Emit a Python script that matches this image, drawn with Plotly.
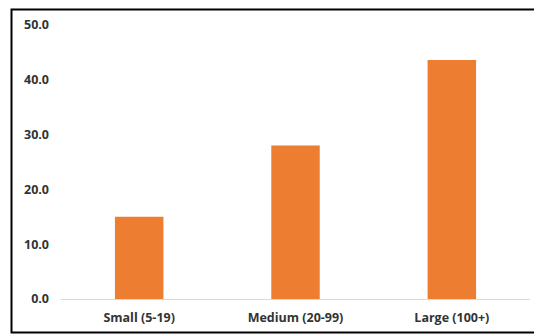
import plotly.graph_objects as go

categories = ["Small (5-19)", "Medium (20-99)", "Large (100+)"]
values = [15.0, 28.0, 43.6]
y_ticks = [0, 10, 20, 30, 40, 50]
y_tick_labels = ["0.0", "10.0", "20.0", "30.0", "40.0", "50.0"]

fig = go.Figure(go.Bar(x=categories, y=values, marker=dict(color="#ED7D31", line=dict(width=0)),
                       width=0.31))

L, R, T, B = 61, 4, 25, 35
W, H = 534, 334
pw, ph = W - L - R, H - T - B

def px_x(p):
    return (p - L) / pw

def px_y(p):
    return (H - B - p) / ph

fig.update_layout(
    width=W, height=H,
    margin=dict(l=L, r=R, t=T, b=B, pad=0),
    paper_bgcolor="white", plot_bgcolor="white",
    font=dict(family="Open Sans", size=12, color="#333333"),
    showlegend=False,
    xaxis=dict(showgrid=False, showline=True, linecolor="#D9D9D9", linewidth=1,
               ticks="", tickfont=dict(size=12.5, color="#333333", weight="bold"),
               ticklabelstandoff=7),
    yaxis=dict(range=[0, 50], tickvals=y_ticks, ticktext=y_tick_labels,
               showgrid=False, zeroline=False, showline=False, ticks="",
               tickfont=dict(size=12.5, color="#333333", weight="bold"),
               ticklabelstandoff=11),
    shapes=[dict(type="rect", xref="paper", yref="paper",
                 x0=px_x(11.5), x1=px_x(537), y0=px_y(9.5), y1=px_y(332.5),
                 line=dict(color="black", width=2), fillcolor="rgba(0,0,0,0)", layer="above")],
)

fig.write_html("out.html")
